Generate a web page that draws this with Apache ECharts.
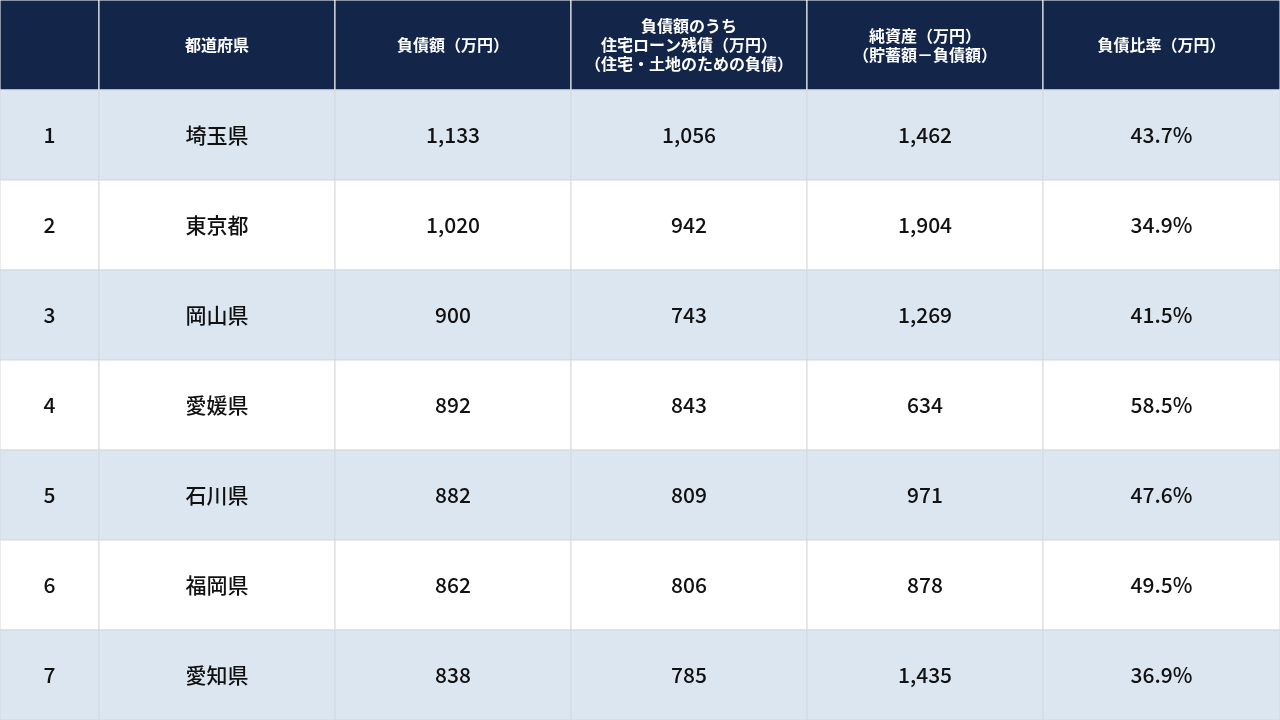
<!DOCTYPE html>
<html><head><meta charset="utf-8">
<script src="https://cdn.jsdelivr.net/npm/echarts@6/dist/echarts.min.js"></script>
<style>html,body{margin:0;padding:0;background:#fff}#main{width:1280px;height:720px}</style>
</head><body><div id="main"></div>
<script>
var headers = ['', '都道府県', '負債額（万円）', '負債額のうち\n住宅ローン残債（万円）\n（住宅・土地のための負債）', '純資産（万円）\n（貯蓄額－負債額）', '負債比率（万円）'];
var ranks = ['1', '2', '3', '4', '5', '6', '7'];
var prefs = ['埼玉県', '東京都', '岡山県', '愛媛県', '石川県', '福岡県', '愛知県'];
var debt = [1133, 1020, 900, 892, 882, 862, 838];
var mortgage = [1056, 942, 743, 843, 809, 806, 785];
var netAssets = [1462, 1904, 1269, 634, 971, 878, 1435];
var debtRatio = [43.7, 34.9, 41.5, 58.5, 47.6, 49.5, 36.9];

var colEdges = [0, 99, 335, 571, 807, 1043, 1280];
var fmt = function (v) { return v.toLocaleString('en-US'); };

var cells = [];
headers.forEach(function (h, c) { cells.push([c, 0, h]); });
ranks.forEach(function (r, i) {
  var row = i + 1;
  [r, prefs[i], fmt(debt[i]), fmt(mortgage[i]), fmt(netAssets[i]), debtRatio[i].toFixed(1) + '%']
    .forEach(function (t, c) { cells.push([c, row, t]); });
});

var chart = echarts.init(document.getElementById('main'));
chart.setOption({
  animation: false,
  grid: { left: 0, right: 0, top: 0, bottom: -32 },
  xAxis: { type: 'value', min: 0, max: 1280, show: false },
  yAxis: { type: 'category', data: ['h', '1', '2', '3', '4', '5', '6', '7'], inverse: true, show: false },
  series: [{
    type: 'custom',
    data: cells,
    clip: false,
    renderItem: function (params, api) {
      var c = api.value(0), row = api.value(1);
      var text = cells[params.dataIndex][2];
      var center = api.coord([0, row]);
      var h = api.size([0, 1])[1];
      var x0 = colEdges[c], x1 = colEdges[c + 1];
      var y0 = center[1] - h / 2;
      var header = row === 0;
      var fill = header ? '#13264a' : (row % 2 === 1 ? '#dce6f1' : '#ffffff');
      return {
        type: 'group',
        children: [
          { type: 'rect', shape: { x: x0, y: y0, width: x1 - x0, height: h },
            style: { fill: fill, stroke: header ? '#ffffff' : '#d4d8de', lineWidth: 1 } },
          { type: 'text', x: (x0 + x1) / 2, y: center[1],
            style: { text: text, align: 'center', verticalAlign: 'middle',
              fill: header ? '#ffffff' : '#111111',
              font: (header ? '700 16px' : '500 21px') + ' "Noto Sans CJK JP", sans-serif',
              lineHeight: 19 } }
        ]
      };
    }
  }]
});
</script></body></html>
